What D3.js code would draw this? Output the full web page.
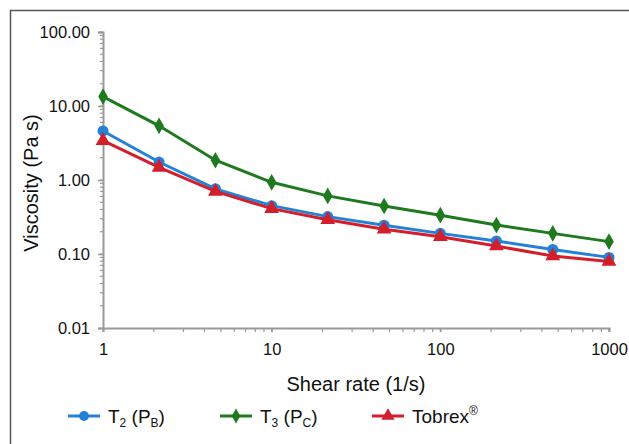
<!DOCTYPE html>
<html>
<head>
<meta charset="utf-8">
<script src="https://cdn.jsdelivr.net/npm/d3@7"></script>
<style>
  body { margin: 0; background: #fff; }
  text { font-family: "Liberation Sans", Arial, sans-serif; fill: #111; }
</style>
</head>
<body>
<svg id="chart" width="629" height="444"></svg>
<script>
var shearRates = [1, 2.15, 4.64, 10, 21.5, 46.4, 100, 215, 464, 1000];
var t2Values = [4.6, 1.75, 0.76, 0.45, 0.32, 0.245, 0.19, 0.15, 0.115, 0.09];
var t3Values = [13.4, 5.4, 1.85, 0.93, 0.61, 0.445, 0.335, 0.246, 0.19, 0.147];
var tobrexValues = [3.4, 1.48, 0.70, 0.41, 0.29, 0.216, 0.171, 0.128, 0.094, 0.079];
var yTickValues = [0.01, 0.1, 1, 10, 100];
var xTickValues = [1, 10, 100, 1000];

var svg = d3.select("#chart");

// frame round the picture
svg.append("path")
    .attr("d", "M10.5,444 V10.5 H629")
    .attr("fill", "none")
    .attr("stroke", "#555")
    .attr("stroke-width", 1.5);

var xScale = d3.scaleLog()
    .domain([1, 1000])
    .range([103, 609]);

var yScale = d3.scaleLog()
    .domain([0.01, 100])
    .range([328, 32]);

// minor ticks
var minorX = [];
var minorY = [];
[1, 10, 100].forEach(function(d) {
    for (var i = 2; i <= 10; i++) minorX.push(d * i);
});
[0.01, 0.1, 1, 10].forEach(function(d) {
    for (var i = 2; i <= 10; i++) minorY.push(d * i);
});

var axisColor = "#9a9a9a";

svg.append("g")
    .selectAll("line")
    .data(minorX)
    .enter()
    .append("line")
    .attr("x1", function(d) { return xScale(d); })
    .attr("x2", function(d) { return xScale(d); })
    .attr("y1", 328)
    .attr("y2", 332)
    .attr("stroke", axisColor)
    .attr("stroke-width", 1.2);

svg.append("g")
    .selectAll("line")
    .data(minorY)
    .enter()
    .append("line")
    .attr("x1", 100)
    .attr("x2", 103)
    .attr("y1", function(d) { return yScale(d); })
    .attr("y2", function(d) { return yScale(d); })
    .attr("stroke", axisColor)
    .attr("stroke-width", 1.2);

var xAxis = d3.axisBottom(xScale)
    .tickValues(xTickValues)
    .tickFormat(d3.format("d"))
    .tickSize(4)
    .tickPadding(11);

var yAxis = d3.axisLeft(yScale)
    .tickValues(yTickValues)
    .tickFormat(d3.format(".2f"))
    .tickSize(5)
    .tickPadding(8);

var gx = svg.append("g")
    .attr("transform", "translate(0,328)")
    .call(xAxis);

var gy = svg.append("g")
    .attr("transform", "translate(103,0)")
    .call(yAxis);

[gx, gy].forEach(function(g) {
    g.select(".domain").attr("stroke", axisColor).attr("stroke-width", 2);
    g.selectAll(".tick line").attr("stroke", axisColor).attr("stroke-width", 1.5);
    g.selectAll(".tick text")
        .style("font-family", "Liberation Sans, Arial, sans-serif")
        .style("font-size", "16.5px")
        .attr("fill", "#111");
});

svg.append("text")
    .attr("x", 356)
    .attr("y", 391)
    .attr("text-anchor", "middle")
    .style("font-size", "20px")
    .text("Shear rate (1/s)");

svg.append("text")
    .attr("transform", "translate(38,183) rotate(-90)")
    .attr("text-anchor", "middle")
    .style("font-size", "20px")
    .text("Viscosity (Pa s)");

var series = [
    { name: "T2", values: t2Values, color: "#2581d6", marker: d3.symbolCircle, size: 95 },
    { name: "T3", values: t3Values, color: "#1f7a1f", marker: d3.symbolDiamond, size: 80 },
    { name: "Tobrex", values: tobrexValues, color: "#d21f2b", marker: d3.symbolTriangle, size: 95 }
];

var line = d3.line()
    .x(function(d) { return xScale(d[0]); })
    .y(function(d) { return yScale(d[1]); });

series.forEach(function(s) {
    var pts = shearRates.map(function(r, i) { return [r, s.values[i]]; });
    svg.append("path")
        .datum(pts)
        .attr("d", line)
        .attr("fill", "none")
        .attr("stroke", s.color)
        .attr("stroke-width", 3);
    svg.append("g")
        .selectAll("path")
        .data(pts)
        .enter()
        .append("path")
        .attr("transform", function(d) {
            return "translate(" + xScale(d[0]) + "," + yScale(d[1]) + ")";
        })
        .attr("d", d3.symbol().type(s.marker).size(s.size))
        .attr("fill", s.color);
});

// legend
var legendX = [68, 220, 372];
var legend = svg.append("g");
series.forEach(function(s, i) {
    var g = legend.append("g").attr("transform", "translate(" + legendX[i] + ",416)");
    g.append("line")
        .attr("x1", 0).attr("x2", 32)
        .attr("stroke", s.color)
        .attr("stroke-width", 3);
    g.append("path")
        .attr("transform", "translate(16,0)")
        .attr("d", d3.symbol().type(s.marker).size(s.size * 0.8))
        .attr("fill", s.color);
    var t = g.append("text")
        .attr("x", 40)
        .attr("y", 7)
        .style("font-size", "19px");
    if (i === 0) {
        t.append("tspan").text("T");
        t.append("tspan").attr("dy", 4).style("font-size", "12px").text("2");
        t.append("tspan").attr("dy", -4).text(" (P");
        t.append("tspan").attr("dy", 4).style("font-size", "12px").text("B");
        t.append("tspan").attr("dy", -4).text(")");
    } else if (i === 1) {
        t.append("tspan").text("T");
        t.append("tspan").attr("dy", 4).style("font-size", "12px").text("3");
        t.append("tspan").attr("dy", -4).text(" (P");
        t.append("tspan").attr("dy", 4).style("font-size", "12px").text("C");
        t.append("tspan").attr("dy", -4).text(")");
    } else {
        t.append("tspan").text("Tobrex");
        t.append("tspan").attr("dy", -8).style("font-size", "12px").text("®");
    }
});
</script>
</body>
</html>
